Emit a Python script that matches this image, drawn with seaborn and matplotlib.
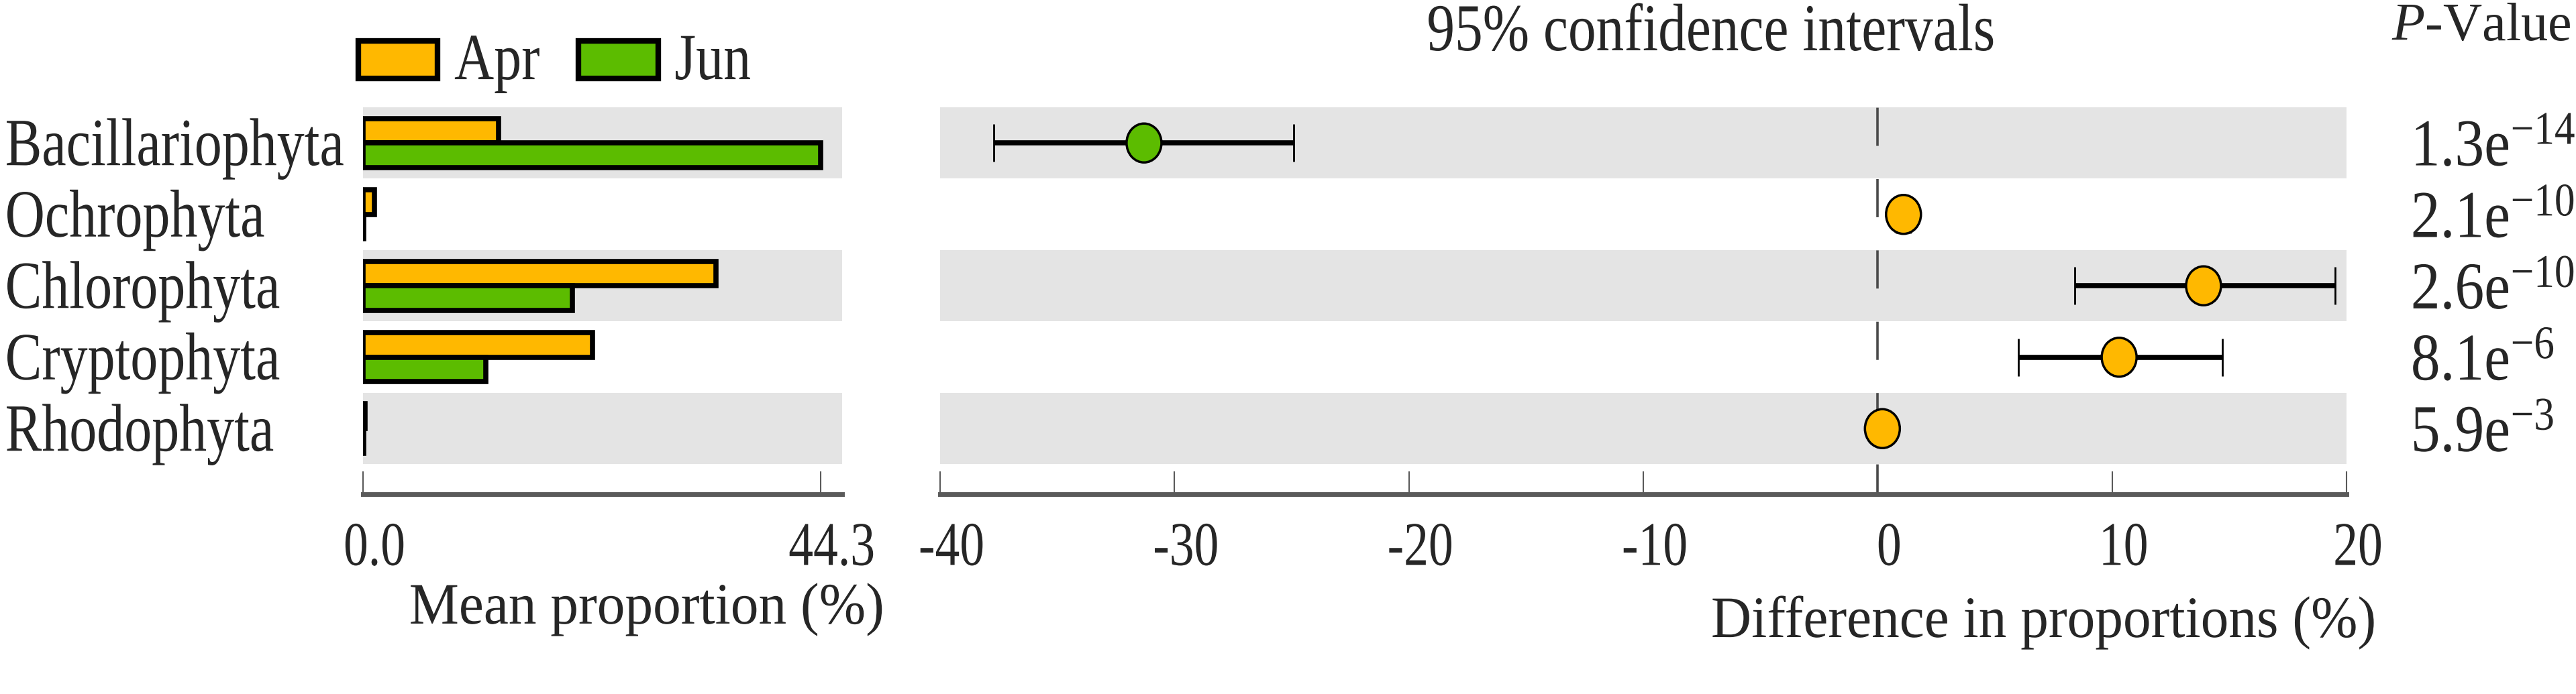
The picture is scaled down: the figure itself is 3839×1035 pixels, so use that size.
# Extended error bar plot: Apr vs Jun phyla
import numpy as np
import pandas as pd
import matplotlib
matplotlib.use('Agg')
import matplotlib.pyplot as plt
import matplotlib.transforms as mtransforms
from matplotlib.path import Path
from matplotlib.patheffects import AbstractPathEffect
import seaborn as sns

phyla = ['Bacillariophyta', 'Ochrophyta', 'Chlorophyta', 'Cryptophyta', 'Rhodophyta']
apr_mean = [13.1, 1.1, 34.2, 22.2, 0.2]
jun_mean = [44.3, 0.05, 20.3, 11.9, 0.05]
diff = [-31.3, 1.1, 13.9, 10.3, 0.2]
ci_low = [-37.7, 0.8, 8.4, 6.0, 0.1]
ci_high = [-24.9, 1.4, 19.5, 14.7, 0.3]
pvals = ['1.3e$^{-14}$', '2.1e$^{-10}$', '2.6e$^{-10}$', '8.1e$^{-6}$', '5.9e$^{-3}$']
colors = {'Apr': '#FFB800', 'Jun': '#5CBC00'}
mean_ticks = [0.0, 44.3]
diff_ticks = [-40, -30, -20, -10, 0, 10, 20]

sns.set_style('white')
plt.rcParams['font.family'] = ['Liberation Serif', 'DejaVu Serif']
plt.rcParams['mathtext.fontset'] = 'custom'
plt.rcParams['mathtext.rm'] = 'Liberation Serif'
plt.rcParams['mathtext.it'] = 'Liberation Serif:italic'
plt.rcParams['lines.scale_dashes'] = False


class VStretch(AbstractPathEffect):
    # the source figure has its lettering stretched vertically
    def __init__(self, s):
        super().__init__()
        self.s = s

    def draw_path(self, renderer, gc, tpath, affine, rgbFace=None):
        renderer.draw_path(gc, tpath, mtransforms.Affine2D().scale(1, self.s) + affine, rgbFace)


def stretch(texts, s):
    for t in texts:
        t.set_path_effects([VStretch(s)])


bars = pd.DataFrame({
    'phylum': phyla * 2,
    'month': ['Apr'] * len(phyla) + ['Jun'] * len(phyla),
    'value': apr_mean + jun_mean,
})
ci = pd.DataFrame({'phylum': phyla, 'pos': range(len(phyla)), 'diff': diff,
                   'lo': ci_low, 'hi': ci_high})
ci['group'] = np.where(ci['diff'] < 0, 'Jun', 'Apr')

fig = plt.figure(figsize=(38.39, 10.35), dpi=100)
bottom, height = 1 - 737 / 1035, 577 / 1035
ax1 = fig.add_axes([541 / 3839, bottom, 714 / 3839, height])
ax2 = fig.add_axes([1401 / 3839, bottom, 2096 / 3839, height])
ylim = (4.918, -0.5)

# grey bands on alternate rows
for ax in (ax1, ax2):
    for i in range(0, len(phyla), 2):
        ax.axhspan(i - 0.5, i + 0.5, color='#E4E4E4', lw=0, zorder=0)

# left: mean proportions
sns.barplot(data=bars, y='phylum', x='value', hue='month', orient='h',
            palette=colors, saturation=1, width=0.69, edgecolor='black', linewidth=5.5,
            ax=ax1, zorder=2)
handles, labels = ax1.get_legend_handles_labels()
ax1.get_legend().remove()
ax1.set_xlim(0, 46.4)
ax1.set_ylim(*ylim)
ax1.set_xticks(mean_ticks)
ax1.set_xticklabels(['0.0', '44.3'])
ax1.set_xlabel('')
ax1.set_ylabel('')
ax1.tick_params(axis='y', length=0, pad=384, labelsize=59)
down = mtransforms.ScaledTranslation(0, -0.33, fig.dpi_scale_trans)
for lab in ax1.get_yticklabels():
    lab.set_ha('left')
    lab.set_va('baseline')
    lab.set_transform(lab.get_transform() + down)
stretch(ax1.get_yticklabels(), 1.23)

# right: difference with 95% CI
ax2.axvline(0, color='#4A4A4A', lw=2.6, linestyle=(9, (41, 35.6)), zorder=1)
ax2.errorbar(ci['diff'], ci['pos'], xerr=[ci['diff'] - ci['lo'], ci['hi'] - ci['diff']],
             fmt='none', ecolor='black', elinewidth=5.5, capsize=20.5, capthick=2, zorder=3)
oval = Path.unit_circle().transformed(mtransforms.Affine2D().scale(1, 58 / 52))
sns.scatterplot(data=ci, x='diff', y='pos', hue='group', palette=colors, s=1745,
                marker=oval, edgecolor='black', linewidth=2.5, legend=False, ax=ax2, zorder=4)
ax2.set_xlim(-40, 20)
ax2.set_ylim(*ylim)
ax2.set_xticks(diff_ticks)
ax2.set_xticklabels([str(t) for t in diff_ticks])
ax2.set_xlabel('')
ax2.set_ylabel('')
ax2.set_yticks(range(len(phyla)))
ax2.set_yticklabels(pvals)
ax2.tick_params(axis='y', left=False, right=False, labelleft=False, labelright=True,
                pad=65.5, labelsize=63)
down_p = mtransforms.ScaledTranslation(0, -0.34, fig.dpi_scale_trans)
for t in ax2.yaxis.get_major_ticks():
    t.label2.set_va('baseline')
    t.label2.set_transform(t.label2.get_transform() + down_p)
    t.label2.set_path_effects([VStretch(1.14)])

shift = mtransforms.ScaledTranslation(0.17, 0, fig.dpi_scale_trans)
for ax in (ax1, ax2):
    for s in ('top', 'right', 'left'):
        ax.spines[s].set_visible(False)
    ax.spines['bottom'].set_color('#5A5A5A')
    ax.spines['bottom'].set_linewidth(5)
    ax.tick_params(axis='x', direction='in', length=24.5, width=1.5, color='#5A5A5A',
                   pad=76, labelsize=53, bottom=True)
    for lab in ax.get_xticklabels():
        lab.set_va('baseline')
        lab.set_transform(lab.get_transform() + shift)
    stretch(ax.get_xticklabels(), 1.26)

leg = fig.legend(handles, labels, loc='center left', bbox_to_anchor=(0.139, 0.905),
                 ncol=2, frameon=False, fontsize=59, handlelength=1.45, handleheight=0.67,
                 handletextpad=0.3, columnspacing=0.7, borderpad=0, borderaxespad=0)
for h in leg.legend_handles:
    h.set_linewidth(6)
stretch(leg.get_texts(), 1.2)

title = fig.text(2550 / 3839, 1 - 75 / 1035, '95% confidence intervals', ha='center',
                 va='baseline', fontsize=60)
stretch([title], 1.2)
fig.text(3564 / 3839, 1 - 60 / 1035, r'$\mathit{P}$-Value', ha='left', va='baseline', fontsize=58)
xl1 = fig.text(964 / 3839, 1 - 930 / 1035, 'Mean proportion (%)', ha='center',
               va='baseline', fontsize=60)
xl2 = fig.text(3046 / 3839, 1 - 950 / 1035, 'Difference in proportions (%)', ha='center',
               va='baseline', fontsize=60)
stretch([xl1, xl2], 1.05)

fig.savefig('out.png', dpi=100)
